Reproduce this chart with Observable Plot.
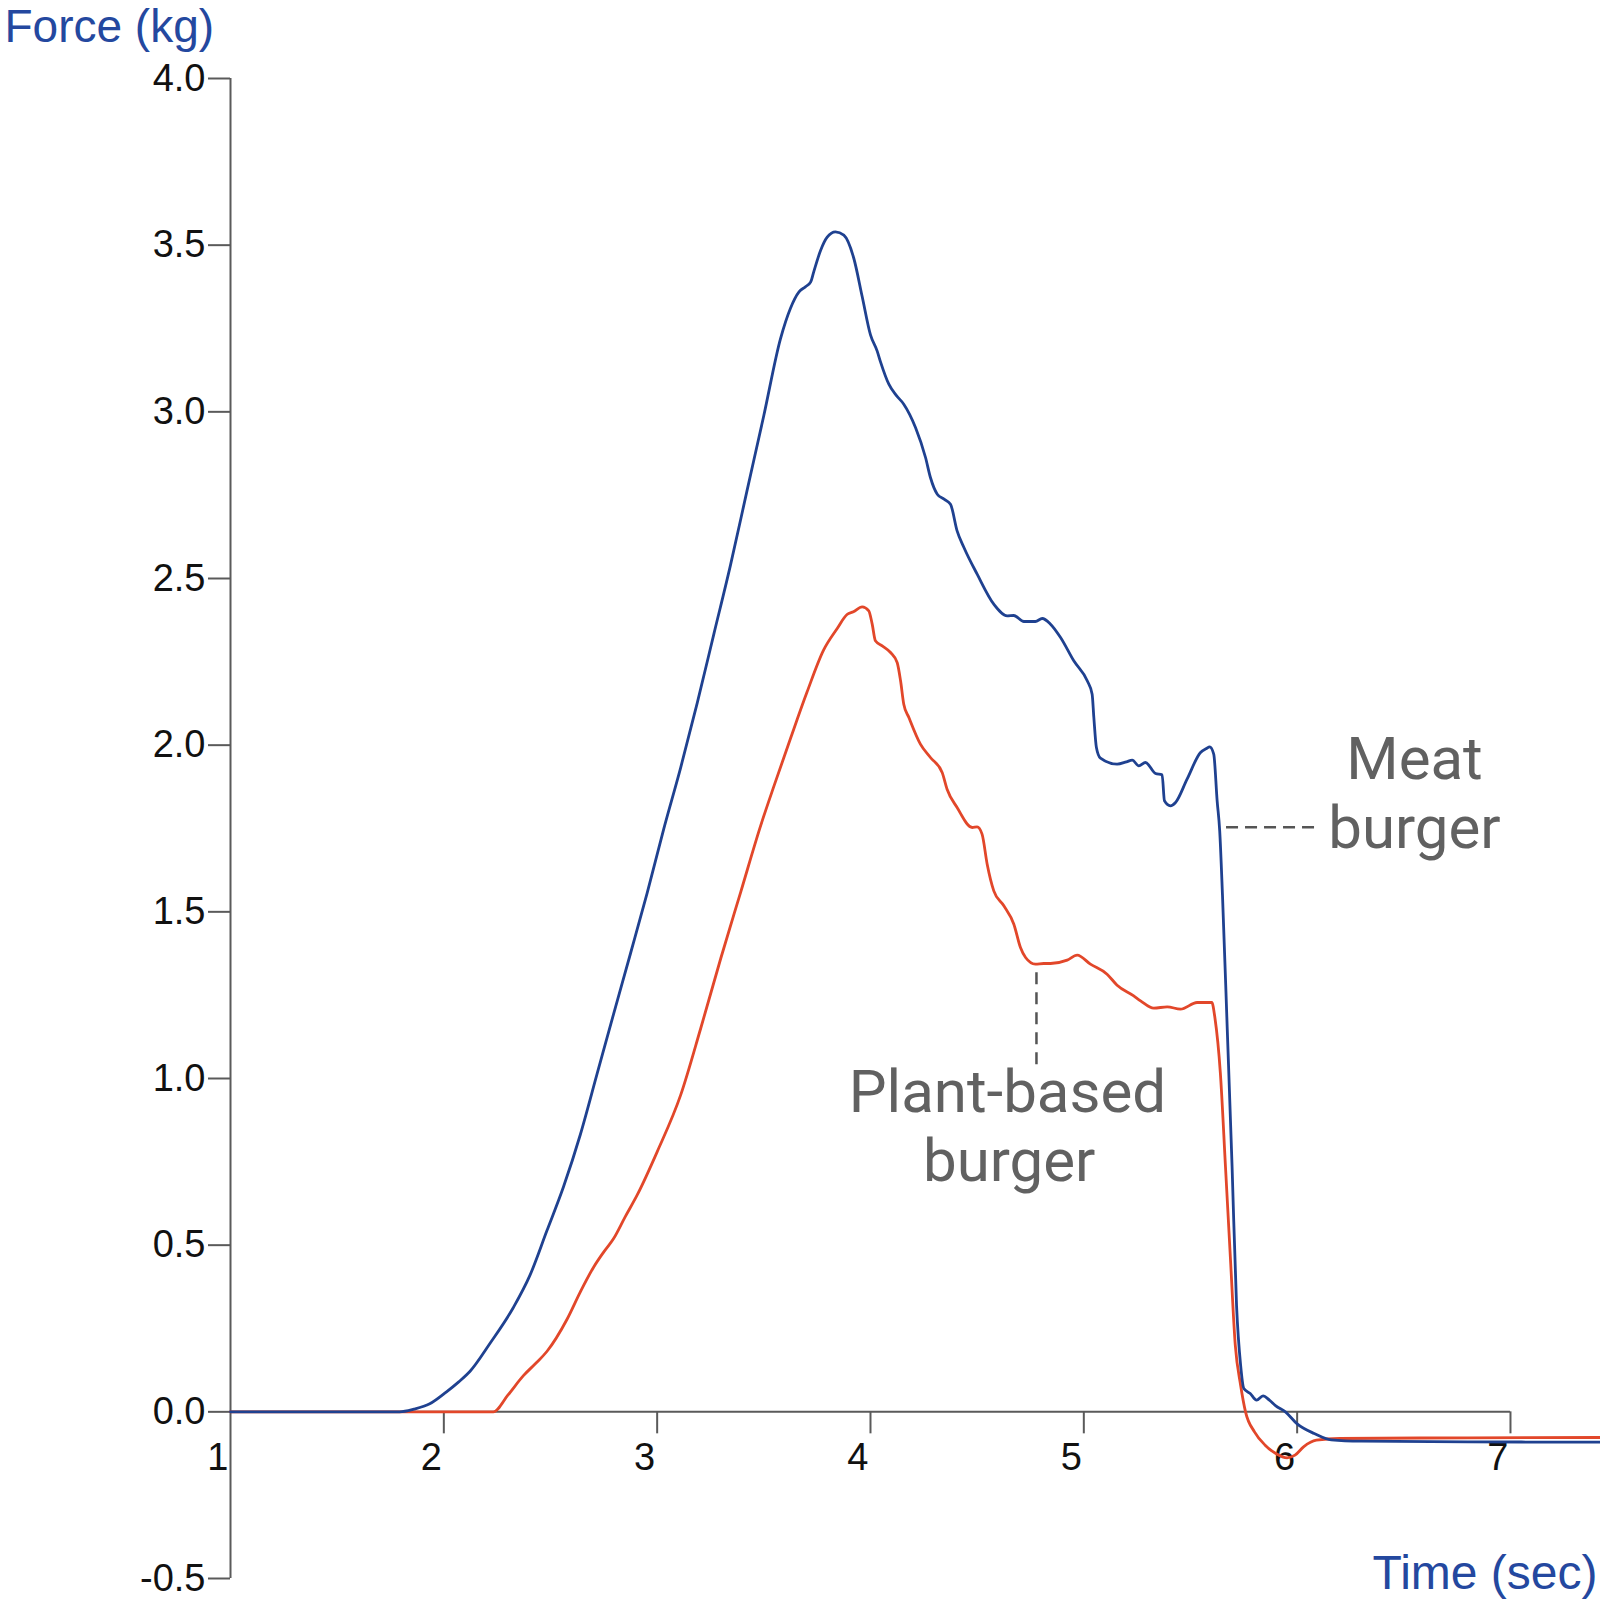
<!DOCTYPE html>
<html><head><meta charset="utf-8">
<script src="https://cdn.jsdelivr.net/npm/d3@7"></script>
<script src="https://cdn.jsdelivr.net/npm/@observablehq/plot@0.6"></script>
<style>body{margin:0;background:#fff}</style>
</head><body><div id="chart"></div>
<script>
// Meat burger: time (sec) and force (kg)
const meatTime = [1.0,1.793,1.86,1.934,2.0125,2.07,2.122,2.216,2.326,2.404,2.483,2.561,2.64,2.718,2.796,2.875,2.953,3.031,3.11,3.188,3.266,3.344,3.42,3.5,3.578,3.625,3.665,3.695,3.72,3.734,3.766,3.797,3.836,3.875,3.922,3.961,4.0,4.031,4.047,4.086,4.12,4.156,4.211,4.258,4.281,4.313,4.345,4.375,4.406,4.438,4.5,4.578,4.641,4.672,4.719,4.773,4.805,4.844,4.891,4.953,5.016,5.039,5.047,5.059,5.078,5.156,5.2,5.227,5.258,5.289,5.336,5.367,5.378,5.406,5.43,5.484,5.547,5.575,5.59,5.609,5.625,5.637,5.65,5.672,5.695,5.716,5.735,5.75,5.78,5.81,5.84,5.87,5.9,5.945,6.0,6.08,6.16,6.3,6.8,7.422];
const meatForce = [0,0,0.008,0.024,0.06,0.09,0.121,0.205,0.313,0.41,0.543,0.675,0.832,1.013,1.194,1.375,1.556,1.749,1.932,2.127,2.334,2.541,2.76,2.989,3.219,3.311,3.36,3.375,3.39,3.42,3.484,3.524,3.54,3.53,3.46,3.346,3.231,3.183,3.15,3.083,3.05,3.023,2.953,2.863,2.803,2.753,2.738,2.723,2.643,2.593,2.513,2.423,2.388,2.389,2.371,2.371,2.38,2.363,2.323,2.253,2.193,2.153,2.083,1.993,1.961,1.943,1.95,1.955,1.938,1.948,1.915,1.911,1.833,1.818,1.828,1.898,1.978,1.99,1.995,1.973,1.833,1.743,1.55,1.155,0.736,0.318,0.14,0.07,0.055,0.035,0.048,0.035,0.018,0.0,-0.036,-0.065,-0.084,-0.088,-0.09,-0.091];

// Plant-based burger: time (sec) and force (kg)
const plantTime = [1.0,2.232,2.3,2.373,2.43,2.483,2.577,2.64,2.702,2.75,2.796,2.85,2.906,3.0,3.11,3.204,3.298,3.392,3.486,3.549,3.625,3.703,3.78,3.844,3.89,3.92,3.961,3.992,4.008,4.023,4.055,4.094,4.125,4.141,4.156,4.18,4.234,4.281,4.336,4.359,4.406,4.477,4.5,4.523,4.547,4.578,4.625,4.672,4.703,4.727,4.773,4.812,4.844,4.922,4.969,5.031,5.109,5.156,5.234,5.266,5.328,5.391,5.453,5.531,5.6,5.615,5.64,5.664,5.6875,5.71,5.735,5.758,5.8,5.85,5.9,5.953,5.99,6.03,6.09,6.2,6.8,7.422];
const plantForce = [0,0,0.05,0.1085,0.145,0.181,0.277,0.36,0.434,0.48,0.52,0.585,0.65,0.78,0.95,1.15,1.36,1.56,1.76,1.88,2.02,2.16,2.285,2.35,2.392,2.4,2.415,2.403,2.363,2.313,2.298,2.278,2.248,2.193,2.123,2.083,2.003,1.963,1.918,1.868,1.813,1.753,1.755,1.733,1.643,1.563,1.518,1.463,1.393,1.363,1.343,1.345,1.345,1.355,1.37,1.343,1.313,1.28,1.248,1.233,1.211,1.215,1.208,1.228,1.228,1.18,1.017,0.736,0.457,0.2,0.08,0.0,-0.06,-0.1,-0.125,-0.138,-0.13,-0.105,-0.085,-0.08,-0.078,-0.077];

const xTicks = [1, 2, 3, 4, 5, 6, 7];
const yTicks = [-0.5, 0, 0.5, 1, 1.5, 2, 2.5, 3, 3.5, 4];

// series labels (data coordinates of each text line's baseline)
const labelText = ["Meat", "burger", "Plant-based", "burger"];
const labelTime = [6.55, 6.55, 4.642, 4.65];
const labelForce = [1.90, 1.692, 0.901, 0.693];

// leader lines
const meatLeaderTime = [5.669, 6.10];
const meatLeaderForce = 1.754;
const plantLeaderTime = 4.778;
const plantLeaderForce = [1.041, 1.318];

const meat = meatTime.map((t, i) => ({t, F: meatForce[i]}));
const plant = plantTime.map((t, i) => ({t, F: plantForce[i]}));
const labels = labelText.map((text, i) => ({text, t: labelTime[i], F: labelForce[i]}));

const axisGray = "#5a5a5a";
const blue = "#1f4190";
const red = "#e2472a";
const titleBlue = "#24489f";
const sans = "'Liberation Sans', Arial, sans-serif";

const chart = Plot.plot({
  width: 1600,
  height: 1600,
  marginLeft: 230,
  marginRight: 0,
  marginTop: 78,
  marginBottom: 22,
  x: {domain: [1, 7.422], axis: null},
  y: {domain: [-0.5, 4], axis: null},
  style: {background: "#fff", fontFamily: sans},
  marks: [
    // y axis
    Plot.ruleX([1], {stroke: axisGray, strokeWidth: 2}),
    Plot.ruleY(yTicks, {y: d => d, x1: 1, x2: 1, insetLeft: -22, stroke: axisGray, strokeWidth: 2}),
    Plot.text(yTicks, {x: 1, y: d => d, text: d => d.toFixed(1), textAnchor: "end", dx: -25, fontSize: 38, fill: "#111", fontFamily: sans}),
    // x axis drawn through zero
    Plot.ruleY([0], {x1: 1, x2: 7, stroke: axisGray, strokeWidth: 2}),
    Plot.ruleX(xTicks.filter(d => d > 1), {x: d => d, y1: 0, y2: 0, insetBottom: -22, stroke: axisGray, strokeWidth: 2}),
    Plot.text(xTicks, {x: d => d, y: 0, text: d => String(d), textAnchor: "end", lineAnchor: "top", dx: -2, dy: 31, fontSize: 38, fill: "#111", fontFamily: sans}),
    // axis titles
    Plot.text(["Force (kg)"], {frameAnchor: "top-left", text: d => d, textAnchor: "start", lineAnchor: "bottom", dx: -226, dy: -37, fontSize: 46, fill: titleBlue, fontFamily: sans}),
    Plot.text(["Time (sec)"], {frameAnchor: "bottom-right", text: d => d, textAnchor: "end", lineAnchor: "bottom", dx: -3, dy: 10, fontSize: 48, fill: titleBlue, fontFamily: sans}),
    // series
    Plot.line(plant, {x: "t", y: "F", stroke: red, strokeWidth: 2.8, curve: "monotone-x", strokeLinejoin: "round"}),
    Plot.line(meat, {x: "t", y: "F", stroke: blue, strokeWidth: 2.8, curve: "monotone-x", strokeLinejoin: "round"}),
    // leader lines
    Plot.ruleY([meatLeaderForce], {y: d => d, x1: meatLeaderTime[0], x2: meatLeaderTime[1], stroke: "#555", strokeWidth: 2.5, strokeDasharray: "12,7"}),
    Plot.ruleX([plantLeaderTime], {x: d => d, y1: plantLeaderForce[0], y2: plantLeaderForce[1], stroke: "#555", strokeWidth: 2.5, strokeDasharray: "12,8"}),
    // series labels
    Plot.text(labels, {x: "t", y: "F", text: "text", textAnchor: "middle", lineAnchor: "bottom", fontSize: 60, fill: "#616161", fontFamily: "Roboto, 'Noto Sans', sans-serif"})
  ]
});
document.getElementById("chart").appendChild(chart);
</script>
</body></html>
